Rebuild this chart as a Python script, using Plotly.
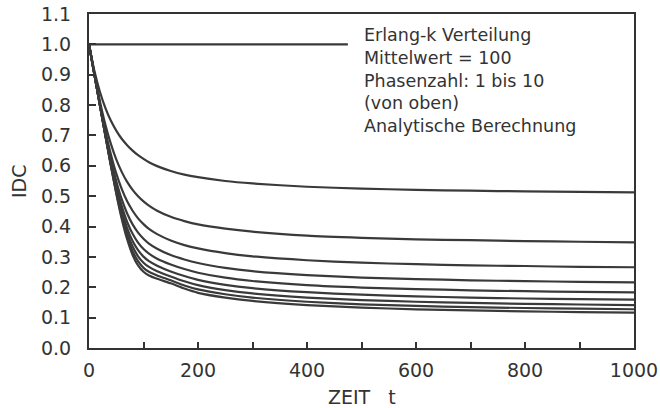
import plotly.graph_objects as go

# Time axis samples
t = [0, 10, 20, 30, 40, 50, 60, 70, 80, 90, 100, 110, 125, 150, 175, 200,
     250, 300, 400, 500, 600, 700, 800, 900, 1000]

# Phase number 1 (Poisson): constant, visible up to the text block
t_k1 = [0, 475]
idc_k1 = [1.0, 1.0]

idc_k2 = [1.0, .912, .844, .791, .749, .716, .689, .668, .650, .635, .623, .612, .599,
          .583, .571, .5625, .550, .542, .531, .525, .521, .518, .516, .514, .5125]
idc_k3 = [1.0, .902, .813, .736, .673, .621, .580, .547, .521, .500, .483, .469, .452,
          .432, .418, .407, .393, .383, .370, .363, .358, .355, .352, .350, .348]
idc_k4 = [1.0, .900, .804, .716, .639, .575, .524, .483, .452, .427, .408, .392, .375,
          .354, .339, .328, .3125, .302, .289, .281, .276, .272, .270, .267, .266]
idc_k5 = [1.0, .900, .801, .707, .623, .550, .490, .443, .407, .380, .360, .344, .327,
          .306, .2915, .280, .264, .253, .240, .232, .227, .223, .220, .218, .216]
idc_k6 = [1.0, .900, .800, .704, .613, .534, .468, .415, .376, .347, .326, .311, .294,
          .275, .260, .248, .2315, .2207, .207, .199, .194, .190, .187, .185, .183]
idc_k7 = [1.0, .900, .800, .702, .608, .524, .452, .395, .352, .322, .301, .286, .271,
          .252, .237, .2245, .208, .197, .1837, .1755, .170, .166, .163, .161, .159]
idc_k8 = [1.0, .900, .800, .701, .605, .517, .441, .379, .334, .302, .281, .267, .253,
          .2356, .2197, .2069, .1906, .1797, .166, .1578, .1523, .1484, .1455, .1432, .1414]
idc_k9 = [1.0, .900, .800, .700, .603, .512, .432, .367, .319, .286, .264, .251, .239,
          .223, .206, .193, .177, .166, .1523, .144, .1385, .1346, .1317, .1294, .1276]
idc_k10 = [1.0, .900, .800, .700, .602, .509, .426, .358, .3065, .272, .251, .239, .228,
           .213, .1957, .1817, .166, .155, .1413, .133, .1275, .1236, .1206, .1183, .1165]

x_ticks = [0, 100, 200, 300, 400, 500, 600, 700, 800, 900, 1000]
x_ticktext = ["0", "", "200", "", "400", "", "600", "", "800", "", "1000"]
y_ticks = [0.0, 0.1, 0.2, 0.3, 0.4, 0.5, 0.6, 0.7, 0.8, 0.9, 1.0, 1.1]

legend_lines = ["Erlang-k Verteilung", "Mittelwert = 100", "Phasenzahl: 1 bis 10",
                "(von oben)", "Analytische Berechnung"]

FONT = "DejaVu Sans"
INK = "#333333"
LINE = "#3a3a3a"

fig = go.Figure()
fig.add_trace(go.Scatter(x=t_k1, y=idc_k1, mode="lines",
                         line=dict(color=LINE, width=2.2), showlegend=False))
for ys in [idc_k2, idc_k3, idc_k4, idc_k5, idc_k6, idc_k7, idc_k8, idc_k9, idc_k10]:
    fig.add_trace(go.Scatter(x=t, y=ys, mode="lines",
                             line=dict(color=LINE, width=2.2, shape="spline", smoothing=0.6),
                             showlegend=False))

W, H = 660, 408
L, R, T, B = 89, 26, 14, 60

fig.update_layout(
    width=W, height=H,
    margin=dict(l=L, r=R, t=T, b=B, pad=0),
    paper_bgcolor="white", plot_bgcolor="white",
    font=dict(family=FONT, size=19, color=INK),
    xaxis=dict(range=[0, 1000], tickvals=x_ticks, ticktext=x_ticktext,
               ticks="inside", ticklen=6, tickwidth=2, tickcolor=INK,
               showline=True, linecolor=INK, linewidth=2, mirror=True,
               showgrid=False, zeroline=False, ticklabelstandoff=4,
               automargin=False,
               tickfont=dict(family=FONT, size=19, color=INK)),
    yaxis=dict(range=[0, 1.1], tickvals=y_ticks, tickformat=".1f",
               ticks="inside", ticklen=7, tickwidth=2, tickcolor=INK,
               showline=True, linecolor=INK, linewidth=2, mirror=True,
               showgrid=False, zeroline=False, ticklabelstandoff=12,
               automargin=False,
               tickfont=dict(family=FONT, size=19, color=INK)),
)

plot_h = H - T - B
plot_w = W - L - R
fig.add_annotation(text="<br>".join(legend_lines), xref="paper", yref="paper",
                   x=(362 - L) / plot_w, y=1 - (81 - T) / plot_h,
                   xanchor="left", yanchor="middle", align="left", showarrow=False,
                   font=dict(family=FONT, size=17.5, color=INK))

# Axis titles
fig.add_annotation(text="IDC", xref="paper", yref="paper",
                   x=(19 - L) / plot_w, y=1 - (181 - T) / plot_h,
                   xanchor="center", yanchor="middle", textangle=-90, showarrow=False,
                   font=dict(family=FONT, size=19, color=INK))
fig.add_annotation(text="ZEIT\u00a0\u00a0\u00a0t", xref="paper", yref="paper",
                   x=(361.5 - L) / plot_w, y=-(397 - (H - B)) / plot_h,
                   xanchor="center", yanchor="middle", showarrow=False,
                   font=dict(family=FONT, size=19, color=INK))

fig.write_html("out.html",
               config={"displayModeBar": False},
               post_script="document.body.style.margin='0';"
                           "document.body.style.overflow='hidden';")
